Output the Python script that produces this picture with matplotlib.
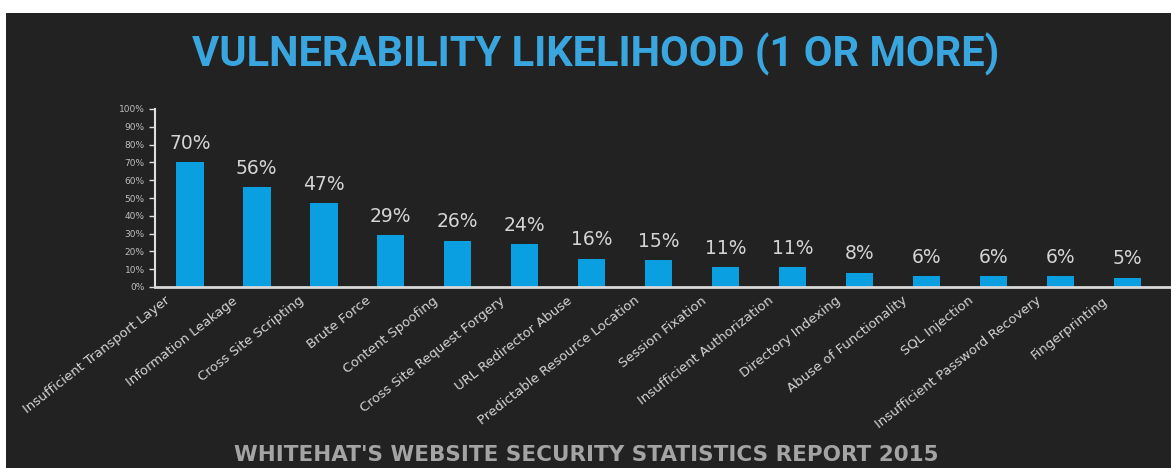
import matplotlib
matplotlib.use("Agg")
import matplotlib.pyplot as plt
from matplotlib.patches import Rectangle
from matplotlib.ticker import PercentFormatter, MultipleLocator
from matplotlib.transforms import ScaledTranslation

categories = [
    "Insufficient Transport Layer", "Information Leakage", "Cross Site Scripting",
    "Brute Force", "Content Spoofing", "Cross Site Request Forgery",
    "URL Redirector Abuse", "Predictable Resource Location", "Session Fixation",
    "Insufficient Authorization", "Directory Indexing", "Abuse of Functionality",
    "SQL Injection", "Insufficient Password Recovery", "Fingerprinting",
]
values = [70, 56, 47, 29, 26, 24, 16, 15, 11, 11, 8, 6, 6, 6, 5]
value_labels = [f"{v}%" for v in values]
title = "VULNERABILITY LIKELIHOOD (1 OR MORE)"
footer = "WHITEHAT'S WEBSITE SECURITY STATISTICS REPORT 2015"

BG = "#222222"
BAR = "#0a9fe0"
TXT = "#d4d4d4"

W, H = 1171, 468
fig = plt.figure(figsize=(W / 100, H / 100), dpi=100, facecolor="white")
fig.patches.append(Rectangle((6 / W, 0), 1 - 6 / W, 1 - 13 / H,
                             transform=fig.transFigure, facecolor=BG,
                             edgecolor="none", zorder=-10))

ax = fig.add_axes([155 / W, 1 - 287 / H, (1171 - 155) / W, 178 / H])
ax.set_zorder(5)
ax.patch.set_alpha(0)
x = list(range(len(categories)))
ax.bar(x, values, width=0.41, color=BAR, zorder=2)
ax.set_xlim(-0.52, 14.65)
ax.set_ylim(0, 100)
ax.yaxis.set_major_locator(MultipleLocator(10))
ax.yaxis.set_major_formatter(PercentFormatter(decimals=0))
for s in ["top", "right"]:
    ax.spines[s].set_visible(False)
ax.spines["left"].set_color("#e0e0e0")
ax.spines["bottom"].set_color("#d8d8d8")
ax.spines["left"].set_linewidth(1.5)
ax.spines["bottom"].set_linewidth(2)
ax.tick_params(axis="y", colors="#e0e0e0", labelcolor="#bdbdbd",
               labelsize=6.5, length=4, width=1)
ax.tick_params(axis="x", length=0, pad=5)
ax.set_xticks(x)
ax.set_xticklabels(categories, rotation=38, ha="right", rotation_mode="anchor",
                   fontsize=9.5, color=TXT, family="DejaVu Sans")
shift = ScaledTranslation(-25 / 100, 0, fig.dpi_scale_trans)
for lbl in ax.get_xticklabels():
    lbl.set_transform(lbl.get_transform() + shift)

for xi, v, lab in zip(x, values, value_labels):
    ax.annotate(lab, (xi, v), xytext=(0, 7), textcoords="offset points",
                ha="center", va="bottom", fontsize=13.5, color=TXT,
                family="DejaVu Sans")

fig.text(596 / W, 1 - 54 / H, title, ha="center", va="center",
         fontsize=30, fontweight="bold", color="#3aa6df",
         family=["Roboto", "DejaVu Sans"])
fig.text(586 / W, 1 - 455 / H, footer, ha="center", va="center",
         fontsize=15.5, fontweight="bold", color="#a4a4a4",
         family="DejaVu Sans")

fig.savefig("out.png", dpi=100, facecolor=fig.get_facecolor())
